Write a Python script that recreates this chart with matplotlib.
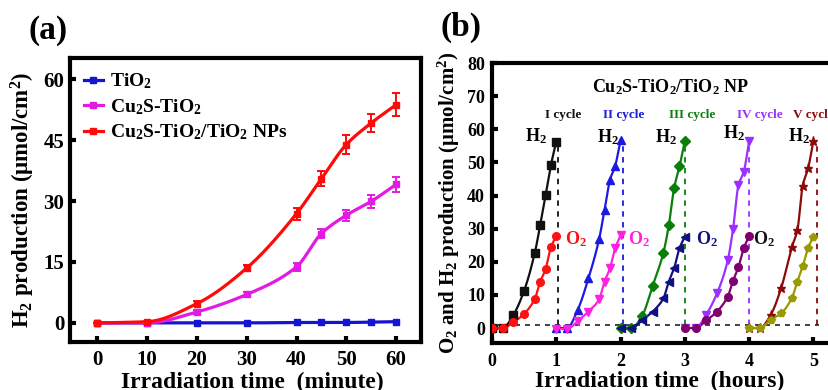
import numpy as np
import matplotlib
matplotlib.use("Agg")
import matplotlib.pyplot as plt

plt.rcParams['font.family'] = ['Liberation Serif', 'DejaVu Serif']
plt.rcParams['font.weight'] = 'bold'
plt.rcParams['axes.labelweight'] = 'bold'
plt.rcParams['mathtext.fontset'] = 'custom'
plt.rcParams['mathtext.rm'] = 'Liberation Serif:bold'
plt.rcParams['mathtext.it'] = 'Liberation Serif:bold'
plt.rcParams['mathtext.bf'] = 'Liberation Serif:bold'
plt.rcParams['mathtext.default'] = 'rm'

# ---------------- data (a) ----------------
time_min = [0, 10, 20, 30, 40, 45, 50, 55, 60]
tio2 = [0.0, 0.0, 0.0, 0.0, 0.1, 0.1, 0.1, 0.2, 0.3]
cu2s_tio2 = [0.0, 0.0, 2.7, 7.0, 13.8, 22.0, 26.5, 29.9, 34.1]
cu2s_tio2_err = [0.0, 0.0, 0.5, 0.6, 1.0, 1.0, 1.3, 1.5, 1.8]
cu2s_np = [0.0, 0.3, 4.75, 13.5, 26.9, 35.5, 43.9, 49.2, 53.7]
cu2s_np_err = [0.0, 0.0, 0.6, 0.8, 1.5, 1.8, 2.3, 2.3, 2.8]
labels_a = ["TiO$_2$", "Cu$_2$S-TiO$_2$", "Cu$_2$S-TiO$_2$/TiO$_2$ NPs"]

# ---------------- data (b) ----------------
cycle_time_min = [0, 10, 20, 30, 40, 45, 50, 55, 60]
h2_cycles = [
    [0, 0, 4.0, 11.3, 22.8, 31.1, 40.1, 49.2, 56.3],
    [0, 0, 5.5, 15.0, 26.9, 35.6, 44.6, 49.0, 56.7],
    [0, 0, 3.6, 12.8, 22.8, 31.0, 42.3, 48.8, 56.5],
    [0, 0, 4.1, 10.5, 20.4, 30.0, 43.1, 47.2, 56.5],
    [0, 0, 3.9, 12.2, 24.6, 29.5, 43.0, 48.2, 56.5],
]
o2_cycles = [
    [0, 0, 1.8, 4.3, 8.9, 14.0, 17.8, 24.4, 27.8],
    [-0.3, -0.3, 2.1, 5.0, 8.7, 14.0, 18.0, 24.1, 28.0],
    [0, 0, 2.3, 5.0, 9.0, 14.0, 18.1, 24.1, 27.6],
    [0, 0, 2.3, 5.0, 9.5, 14.3, 18.4, 24.1, 27.8],
    [0, 0, 2.5, 4.5, 9.2, 14.0, 18.6, 24.1, 27.6],
]
cycle_names = ["I cycle", "II cycle", "III cycle", "IV cycle", "V cycle"]
h2_colors = ['#111111', '#1a1ae0', '#0a800a', '#9b30ff', '#8b0a0a']
o2_colors = ['#ff1010', '#ff20e0', '#101080', '#800070', '#9a9a00']
h2_markers = ['s', '^', 'D', 'v', '*']
o2_markers = ['o', 'v', '<', 'o', 'p']
o2_label_colors = ['#ff1010', '#ff20e0', '#101080', '#111111']
vline_pos = [1.03, 2.03, 3.01, 4.0, 5.05]


def pchip(x, y, n=200):
    x = np.asarray(x, float)
    y = np.asarray(y, float)
    h = np.diff(x)
    d = np.diff(y) / h
    m = np.zeros_like(y)
    for k in range(1, len(x) - 1):
        if d[k - 1] * d[k] > 0:
            w1 = 2 * h[k] + h[k - 1]
            w2 = h[k] + 2 * h[k - 1]
            m[k] = (w1 + w2) / (w1 / d[k - 1] + w2 / d[k])
    m[0] = d[0]
    m[-1] = d[-1]
    xs = np.linspace(x[0], x[-1], n)
    idx = np.clip(np.searchsorted(x, xs) - 1, 0, len(x) - 2)
    t = (xs - x[idx]) / h[idx]
    h00 = 2 * t**3 - 3 * t**2 + 1
    h10 = t**3 - 2 * t**2 + t
    h01 = -2 * t**3 + 3 * t**2
    h11 = t**3 - t**2
    ys = h00 * y[idx] + h10 * h[idx] * m[idx] + h01 * y[idx + 1] + h11 * h[idx] * m[idx + 1]
    return xs, ys


fig = plt.figure(figsize=(8.29, 3.90), dpi=100)

# ================= panel (a) =================
axa = fig.add_axes([70 / 829, 48 / 390, 351 / 829, 284 / 390])
cols_a = ['#1414d2', '#e21ae2', '#ff0a0a']
series_a = [tio2, cu2s_tio2, cu2s_np]
errs_a = [None, cu2s_tio2_err, cu2s_np_err]
for vals, err, c, lab in zip(series_a, errs_a, cols_a, labels_a):
    xs, ys = pchip(time_min, vals)
    axa.plot(xs, ys, color=c, lw=2.3, zorder=3)
    if err is not None:
        axa.errorbar(time_min, vals, yerr=err, fmt='s', color=c, ms=4,
                     elinewidth=1.4, capsize=3, capthick=1.4, zorder=4)
    else:
        axa.plot(time_min, vals, 's', color=c, ms=4, zorder=4)
    axa.plot([], [], '-s', color=c, lw=2.3, ms=4, label=lab)

axa.set_xlim(-5.5, 65)
axa.set_ylim(-4.7, 65.2)
axa.set_xticks([0, 10, 20, 30, 40, 50, 60])
axa.set_yticks([0, 15, 30, 45, 60])
axa.tick_params(direction='in', length=4, width=3, labelsize=15, pad=6)
axa.tick_params(axis='y', pad=4)
for s in axa.spines.values():
    s.set_linewidth(3)
axa.set_xlabel("Irradiation time  (minute)", fontsize=17, labelpad=2)
axa.xaxis.set_label_coords(0.518, -0.105, transform=axa.transAxes)
axa.xaxis.label.set_va('top')
axa.set_ylabel("H$_2$ production (μmol/cm$^2$)", fontsize=16.5, labelpad=5)
axa.legend(loc='upper left', frameon=False, fontsize=14, handlelength=1.0,
           handletextpad=0.35, labelspacing=0.3, borderaxespad=0.4,
           borderpad=0.3)
fig.text(48 / 829, 1 - 30 / 390, "(a)", fontsize=24, ha='center', va='center')

# ================= panel (b) =================
axb = fig.add_axes([492 / 829, 47 / 390, 360 / 829, 280 / 390])
hours = np.array(cycle_time_min) / 60.0
for k in range(5):
    t = hours + k
    xs, ys = pchip(t, h2_cycles[k])
    axb.plot(xs, ys, color=h2_colors[k], lw=1.6, zorder=3)
    axb.plot(t, h2_cycles[k], h2_markers[k], color=h2_colors[k], ms=5.5 if h2_markers[k] != '*' else 6.5, zorder=4)
    xs, ys = pchip(t, o2_cycles[k])
    axb.plot(xs, ys, color=o2_colors[k], lw=1.6, zorder=3)
    axb.plot(t, o2_cycles[k], o2_markers[k], color=o2_colors[k], ms=5.5, zorder=4)
    axb.plot([vline_pos[k], vline_pos[k]], [1.0, h2_cycles[k][-1]], ls='--',
             color=h2_colors[k], lw=1.3, dashes=(3, 3), zorder=2)

axb.plot([0.05, 5.08], [1.0, 1.0], ls='--', color='#222222', lw=1.2, dashes=(3, 3), zorder=2)

axb.text(2.77, 72.7, "Cu$_2$S-TiO$_2$/TiO$_2$ NP", fontsize=13, ha='center', va='center')
cyc_x = [1.10, 2.05, 3.12, 4.16, 5.0]
for k in range(5):
    axb.text(cyc_x[k], 64.2, cycle_names[k], fontsize=9.5, ha='center', va='center',
             color=h2_colors[k])
h2_lab_x = [0.69, 1.80, 2.70, 3.76, 4.77]
h2_lab_y = [57.9, 57.7, 57.7, 58.7, 57.9]
for x, y in zip(h2_lab_x, h2_lab_y):
    axb.text(x, y, "H$_2$", fontsize=13, ha='center', va='center')
o2_lab_x = [1.30, 2.28, 3.34, 4.23]
for x, c in zip(o2_lab_x, o2_label_colors):
    axb.text(x, 26.8, "O$_2$", fontsize=13, ha='center', va='center', color=c)

axb.set_xlim(0, 5.6)
axb.set_ylim(-4.5, 80)
axb.set_xticks([0, 1, 2, 3, 4, 5])
axb.set_yticks(np.arange(0, 81, 10))
axb.tick_params(direction='in', length=4, width=3, labelsize=13, pad=7)
axb.tick_params(axis='y', pad=5)
for s in axb.spines.values():
    s.set_linewidth(3)
axb.set_xlabel("Irradiation time  (hours)", fontsize=17, labelpad=1)
axb.xaxis.set_label_coords(0.467, -0.1, transform=axb.transAxes)
axb.xaxis.label.set_va('top')
axb.set_ylabel("O$_2$ and H$_2$ production (μmol/cm$^2$)", fontsize=15, labelpad=4)
fig.text(461 / 829, 1 - 27 / 390, "(b)", fontsize=24, ha='center', va='center')

fig.savefig("out.png", dpi=100)
